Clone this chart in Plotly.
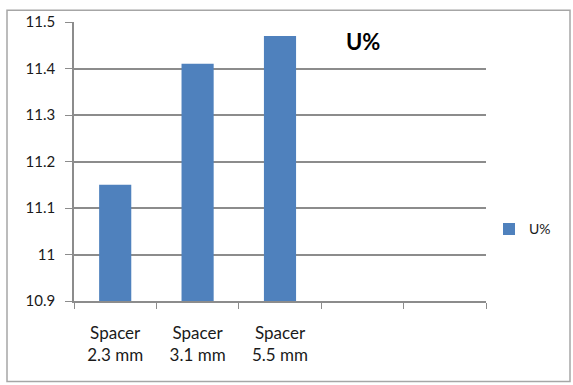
import plotly.graph_objects as go

categories = ["Spacer<br>2.3 mm", "Spacer<br>3.1 mm", "Spacer<br>5.5 mm", " ", "  "]
u_values = [11.15, 11.41, 11.47, None, None]
series_name = "U%"
y_ticks = [10.9, 11.0, 11.1, 11.2, 11.3, 11.4, 11.5]
y_ticktext = ["10.9", "11", "11.1", "11.2", "11.3", "11.4", "11.5"]

W, H = 573, 385
L, R, T, B = 74, 486, 17, 301
pw, ph = R - L, B - T

def px(x):
    return (x - L) / pw

def py(y):
    return (B - y) / ph

fig = go.Figure()
fig.add_trace(go.Bar(
    x=categories, y=u_values, name=series_name,
    marker=dict(color="#4f81bd", line=dict(width=0)),
    width=0.39,
))

font_family = "Lato, 'Liberation Sans', sans-serif"
grid = "#8c8c8c"

fig.update_layout(
    width=W, height=H,
    margin=dict(l=L, r=W - R, t=T, b=H - B),
    paper_bgcolor="white", plot_bgcolor="white",
    font=dict(family=font_family, size=14, color="#1a1a1a"),
    showlegend=True,
    legend=dict(x=px(489), y=py(228), xanchor="left", yanchor="middle",
                font=dict(size=14, color="#1a1a1a"), itemwidth=30,
                bgcolor="rgba(0,0,0,0)"),
    xaxis=dict(type="category", categoryorder="array", categoryarray=categories,
               tickson="boundaries", ticks="outside", ticklen=6, tickcolor=grid,
               showline=True, linecolor=grid, linewidth=1.5, showgrid=False,
               tickfont=dict(size=17), ticklabelstandoff=16, fixedrange=True),
    yaxis=dict(range=[10.9, 11.5], tickvals=y_ticks, ticktext=y_ticktext,
               ticks="outside", ticklen=7, tickcolor=grid,
               showline=True, linecolor=grid, linewidth=1.5,
               showgrid=True, gridcolor=grid, gridwidth=1.5,
               zeroline=False, tickfont=dict(size=15), ticklabelstandoff=7),
    annotations=[dict(text="<b>U%</b>", x=px(363), y=py(37), xref="paper", yref="paper",
                      showarrow=False, font=dict(size=22, color="black"),
                      xanchor="center", yanchor="middle")],
    shapes=[dict(type="rect", xref="paper", yref="paper",
                 x0=px(7), x1=px(570), y0=py(383), y1=py(5),
                 line=dict(color="#a6a6a6", width=1.5), layer="below")],
)

fig.write_html("out.html")
